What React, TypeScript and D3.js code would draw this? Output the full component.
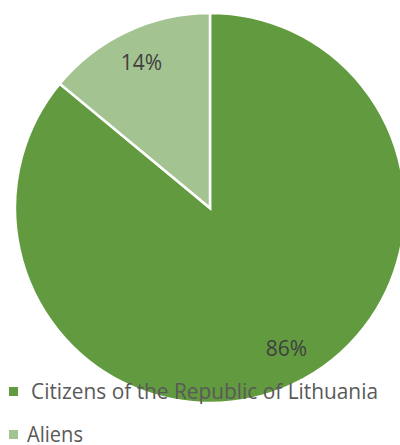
import React from "react";
import * as d3 from "d3";

const categories = ["Citizens of the Republic of Lithuania", "Aliens"];
const shares = [86, 14];
const colors = ["#629b3f", "#a3c491"];

const W = 400;
const H = 445;

const App = () => {
  const cx = 210;
  const cy = 208;
  const r = 195;

  const pie = d3.pie<number>().sort(null).value((d) => d);
  const arcs = pie(shares);
  const arc = d3.arc<d3.PieArcDatum<number>>().innerRadius(0).outerRadius(r);
  const labelArc = d3
    .arc<d3.PieArcDatum<number>>()
    .innerRadius(r * 0.825)
    .outerRadius(r * 0.825);
  const total = d3.sum(shares);

  return (
    <svg
      width={W}
      height={H}
      style={{ position: "absolute", left: 0, top: 0, background: "#fff" }}
      fontFamily="'Open Sans', sans-serif"
    >
      <g transform={`translate(${cx},${cy})`}>
        {arcs.map((a, i) => (
          <path key={i} d={arc(a) || ""} fill={colors[i]} stroke="#fff" strokeWidth={2.5} />
        ))}
        {arcs.map((a, i) => {
          let [x, y] = labelArc.centroid(a);
          // the big slice label sits a little right of its centroid in the original
          if (i === 0) { x += 8; y -= 5; }
          return (
            <text
              key={"l" + i}
              x={x}
              y={y}
              dy="0.35em"
              textAnchor="middle"
              fontSize={21}
              fill="#404040"
            >
              {Math.round((a.data / total) * 100) + "%"}
            </text>
          );
        })}
      </g>
      <g>
        {categories.map((c, i) => (
          <g key={c} transform={`translate(0,${i * 43})`}>
            <rect x={9} y={387} width={9} height={9} fill={colors[i]} />
            <text
              x={i === 0 ? 31 : 27}
              y={399}
              fontSize={21}
              fill="#595959"
              textLength={i === 0 ? 347 : 56}
              lengthAdjust="spacingAndGlyphs"
            >
              {c}
            </text>
          </g>
        ))}
      </g>
    </svg>
  );
};

export default App;
